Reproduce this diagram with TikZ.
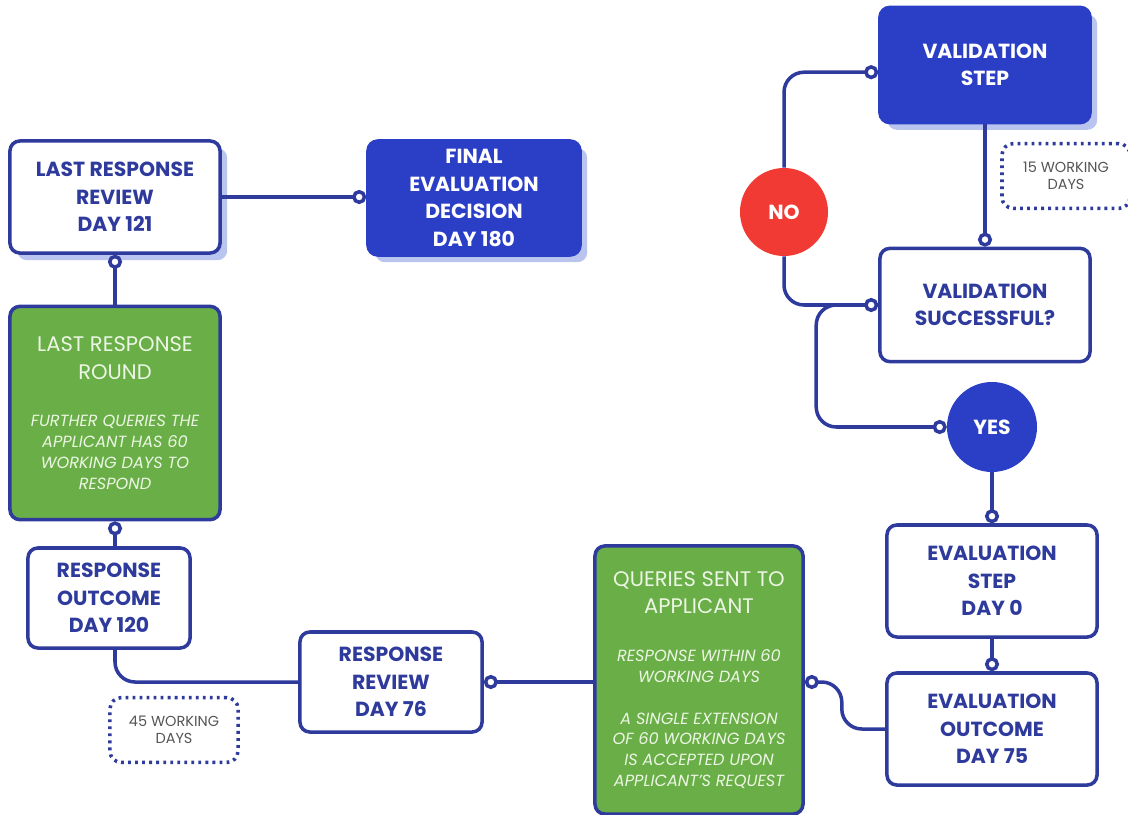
\documentclass[tikz,border=0pt]{standalone}
\usepackage{fontspec}
\setmainfont{Poppins}
\usetikzlibrary{arrows.meta,shadows}

\definecolor{navy}{RGB}{46,58,156}
\definecolor{royal}{RGB}{43,62,198}
\definecolor{leaf}{RGB}{106,174,71}
\definecolor{alarm}{RGB}{240,58,51}
\definecolor{haze}{RGB}{185,197,239}
\definecolor{note}{RGB}{85,85,85}
\definecolor{paletext}{RGB}{236,246,228}

\tikzset{
    card/.style={rectangle, rounded corners=7pt, draw=navy, line width=2.5pt, fill=white,
        text=navy, align=flush center, inner sep=2pt, text width=5cm,
        font=\bfseries\fontsize{14.5}{19.5}\selectfont,
        minimum width=5.25cm, minimum height=2.8cm},
    lifted/.style={drop shadow={shadow xshift=0.18cm, shadow yshift=-0.18cm, fill=haze, opacity=1}},
    solidcard/.style={card, lifted, draw=royal, fill=royal, text=white},
    greencard/.style={card, fill=leaf, text=paletext, font=\fontsize{15}{19.5}\selectfont},
    badge/.style={circle, text=white, font=\bfseries\fontsize{14.5}{16}\selectfont,
        minimum size=2.2cm, inner sep=0pt},
    daysnote/.style={rectangle, rounded corners=8pt, draw=navy, line width=2.5pt,
        dash pattern=on 2pt off 3pt, text=note, align=flush center,
        font=\fontsize{10.3}{11.8}\selectfont, minimum width=3.2cm, minimum height=1.62cm},
    link/.style={draw=navy, line width=2.5pt, rounded corners=0.5cm},
    ring/.tip={Circle[fill=white, length=10pt, width=10pt]}
}

\begin{document}
\begin{tikzpicture}[x=0.025cm, y=-0.025cm]
    \useasboundingbox (0,0) rectangle (1128,814);

    % Draw nodes
    \node[card, lifted] (lrr) at (115,197) {LAST RESPONSE\\REVIEW\\DAY 121};
    \node[solidcard, minimum width=5.3cm, minimum height=2.85cm] (fed) at (474,198) {FINAL\\EVALUATION\\DECISION\\DAY 180};
    \node[greencard, minimum height=5.33cm] (round) at (115,413)
        {LAST RESPONSE\\ROUND\par\vspace{19pt}
         {\itshape\fontsize{11.5}{14.8}\selectfont FURTHER QUERIES THE\\APPLICANT HAS 60\\WORKING DAYS TO\\RESPOND\par}};
    \node[card, minimum width=4.05cm, minimum height=2.5cm, text width=3.9cm] (ro) at (109,598) {RESPONSE\\OUTCOME\\DAY 120};
    \node[card, minimum width=4.55cm, minimum height=2.5cm, text width=4.3cm] (rr) at (391,682) {RESPONSE\\REVIEW\\DAY 76};
    \node[greencard, minimum width=5.2cm, minimum height=6.7cm] (qs) at (699,680)
        {QUERIES SENT TO\\APPLICANT\par\vspace{19pt}
         {\itshape\fontsize{11.5}{14.8}\selectfont RESPONSE WITHIN 60\\WORKING DAYS\par\vspace{15pt}
         A SINGLE EXTENSION\\OF 60 WORKING DAYS\\IS ACCEPTED UPON\\APPLICANT'S REQUEST\par}};
    \node[card] (eo) at (992,729) {EVALUATION\\OUTCOME\\DAY 75};
    \node[card] (es) at (992,581) {EVALUATION\\STEP\\DAY 0};
    \node[badge, fill=royal, minimum size=2.25cm] (yes) at (992,427) {YES};
    \node[card, minimum height=2.83cm] (vsucc) at (985,305) {VALIDATION\\SUCCESSFUL?};
    \node[solidcard, minimum height=2.88cm] (vstep) at (985,65) {VALIDATION\\STEP};
    \node[badge, fill=alarm] (no) at (784,212) {NO};

    % Notes
    \node[daysnote] (n15) at (1066,176) {15 WORKING\\DAYS};
    \node[daysnote] (n45) at (174,730) {45 WORKING\\DAYS};

    % Draw connections
    \draw[link, -ring] (lrr.east) -- (fed.west |- lrr.east);
    \draw[link, ring-] (lrr.south) -- (round.north);
    \draw[link, -ring] (round.south |- ro.north) -- (round.south);
    \draw[link] (round.south |- ro.south) |- (rr.west);
    \draw[link, ring-] (rr.east) -- (qs.west |- rr.east);
    \draw[link, ring-] (qs.east |- rr.east) -- ++(37,0) |- (eo.west);
    \draw[link, -ring] (es.south) -- (eo.north);
    \draw[link, -ring] (yes.south) -- (es.north);
    \draw[link, -ring] (vstep.south) -- (vsucc.north);
    \draw[link, -ring] (vsucc.west) -- ++(-62,0) |- (yes.west);
    \draw[link, -ring] (no.north) |- ([yshift=-0.18cm]vstep.west);
    \draw[link, -ring] (no.south) |- (vsucc.west);
\end{tikzpicture}
\end{document}
